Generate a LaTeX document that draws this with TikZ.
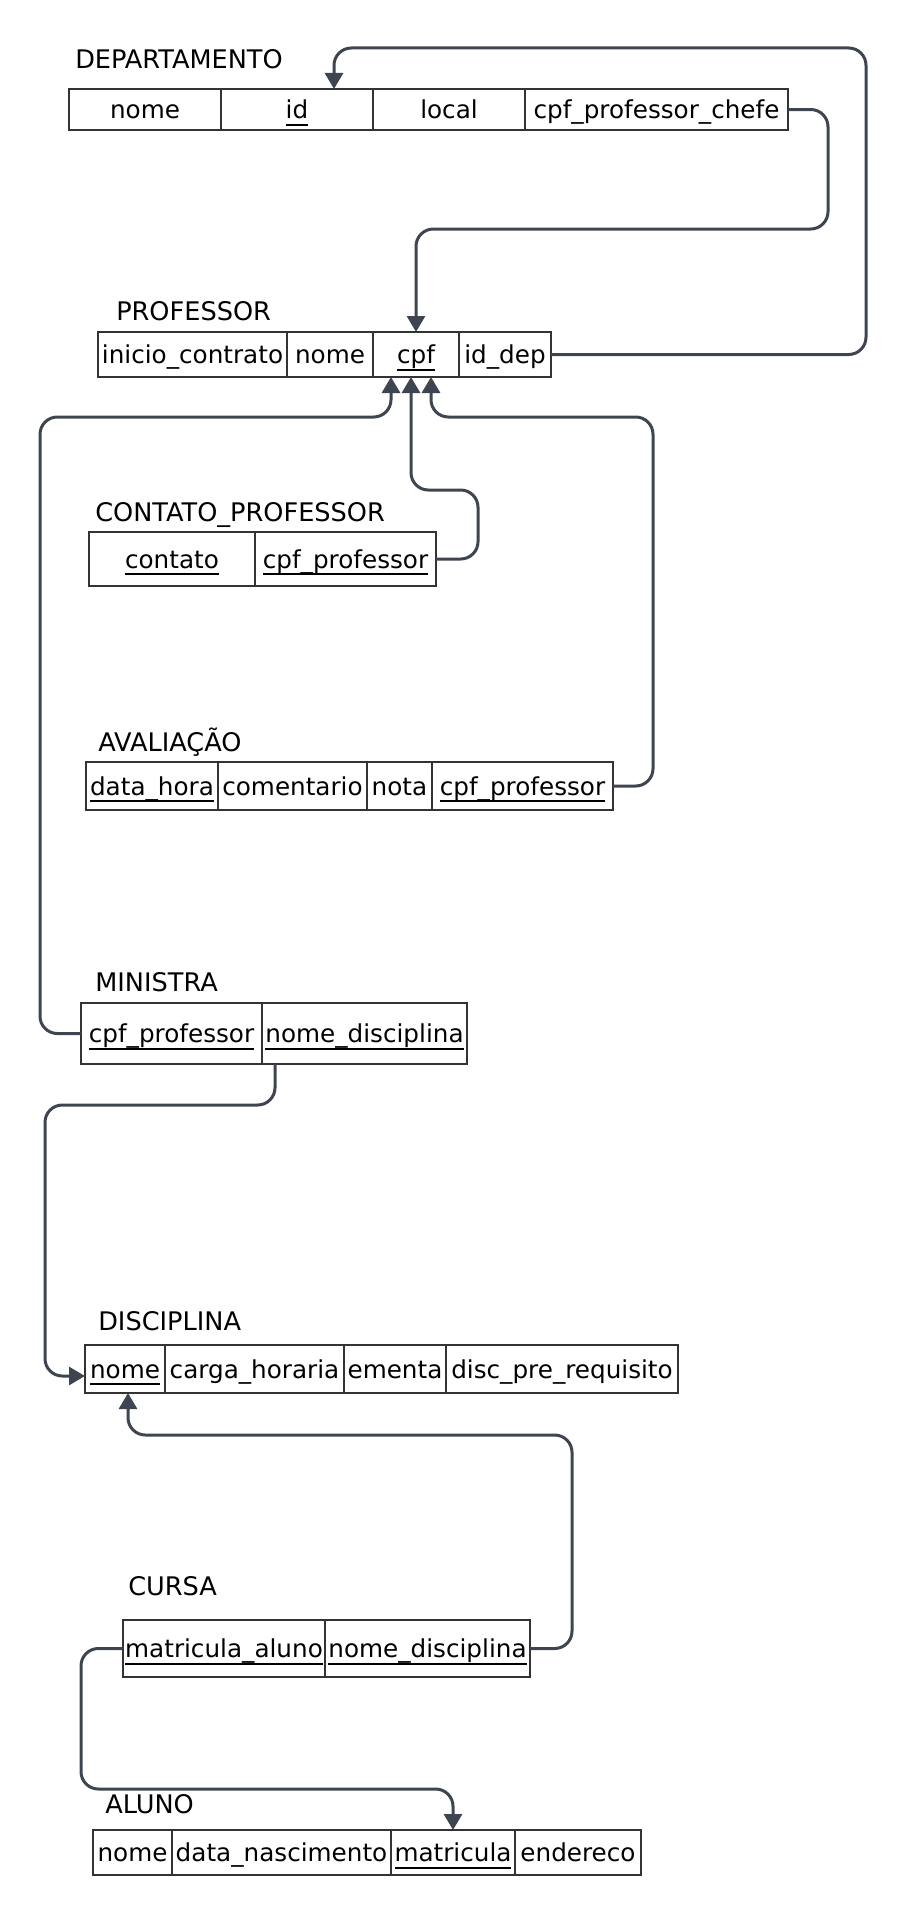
\documentclass[tikz,border=0pt]{standalone}
\usepackage{fontspec}
\setmainfont{DejaVu Sans}
\usetikzlibrary{positioning,calc,arrows.meta}

\definecolor{linha}{HTML}{3F4550}
\definecolor{borda}{HTML}{333333}
\newsavebox\chavebox
\newcommand\chave[1]{\sbox\chavebox{#1}\rlap{\rule[-5.6pt]{\wd\chavebox}{1.5pt}}\usebox\chavebox}

\tikzset{
  cell/.style 2 args={draw=borda, line width=1.5pt, inner sep=0pt, outer sep=0pt,
    minimum width=#1*0.75pt, minimum height=#2*0.75pt,
    text height=14pt, text depth=0.5pt, font=\fontsize{18.5}{22}\selectfont},
  titulo/.style={anchor=base west, inner sep=0pt, font=\fontsize{19.2}{23}\selectfont},
  seta/.style={draw=linha, line width=2.25pt, rounded corners=13pt,
    -{Triangle[width=13.5pt,length=12pt]}},
}

\begin{document}
\begin{tikzpicture}[x=0.75pt,y=-0.75pt]
        \useasboundingbox (0,0) rectangle (904,1916);
        % DEPARTAMENTO
        \node[titulo] (tdep) at (75,69) {DEPARTAMENTO};
        \node[cell={152}{41}, anchor=north west] (dnome) at (69,89) {nome};
        \node[cell={152}{41}, right=0pt of dnome] (did) {\chave{id}};
        \node[cell={152}{41}, right=0pt of did] (dlocal) {local};
        \node[cell={263}{41}, right=0pt of dlocal] (dchefe) {cpf\_professor\_chefe};
        % PROFESSOR
        \node[titulo] (tprof) at (116,320) {PROFESSOR};
        \node[cell={189}{45}, anchor=north west] (pinicio) at (98,332) {inicio\_contrato};
        \node[cell={86}{45}, right=0pt of pinicio] (pnome) {nome};
        \node[cell={86}{45}, right=0pt of pnome] (pcpf) {\chave{cpf}};
        \node[cell={92}{45}, right=0pt of pcpf] (pdep) {id\_dep};
        % CONTATO_PROFESSOR
        \node[titulo] (tcont) at (95,521) {CONTATO\_PROFESSOR};
        \node[cell={166}{54}, anchor=north west] (ccont) at (89,532) {\chave{contato}};
        \node[cell={181}{54}, right=0pt of ccont] (ccpf) {\chave{cpf\_professor}};
        % AVALIACAO
        \node[titulo] (taval) at (98,751) {AVALIAÇÃO};
        \node[cell={132}{48}, anchor=north west] (adata) at (86,762) {\chave{data\_hora}};
        \node[cell={149}{48}, right=0pt of adata] (acom) {comentario};
        \node[cell={65}{48}, right=0pt of acom] (anota) {nota};
        \node[cell={181}{48}, right=0pt of anota] (acpf) {\chave{cpf\_professor}};
        % MINISTRA
        \node[titulo] (tmin) at (95,991) {MINISTRA};
        \node[cell={181}{61}, anchor=north west] (mcpf) at (81,1003) {\chave{cpf\_professor}};
        \node[cell={205}{61}, right=0pt of mcpf] (mdisc) {\chave{nome\_disciplina}};
        % DISCIPLINA
        \node[titulo] (tdisc) at (98,1330) {DISCIPLINA};
        \node[cell={80}{48}, anchor=north west] (snome) at (85,1345) {\chave{nome}};
        \node[cell={179}{48}, right=0pt of snome] (scarga) {carga\_horaria};
        \node[cell={102}{48}, right=0pt of scarga] (sementa) {ementa};
        \node[cell={232}{48}, right=0pt of sementa] (spre) {disc\_pre\_requisito};
        % CURSA
        \node[titulo] (tcur) at (128,1595) {CURSA};
        \node[cell={202}{57}, anchor=north west] (cmat) at (123,1620) {\chave{matricula\_aluno}};
        \node[cell={205}{57}, right=0pt of cmat] (cdisc) {\chave{nome\_disciplina}};
        % ALUNO
        \node[titulo] (talu) at (105,1813) {ALUNO};
        \node[cell={79}{45}, anchor=north west] (anome) at (93,1830) {nome};
        \node[cell={219}{45}, right=0pt of anome] (anasc) {data\_nascimento};
        \node[cell={124}{45}, right=0pt of anasc] (amat) {\chave{matricula}};
        \node[cell={126}{45}, right=0pt of amat] (aend) {endereco};
        % ligacoes
        \draw[seta] (pdep.east) -| (866,48) -| ($(did.north)+(37,0)$);
        \draw[seta] (dchefe.east) -| (828,229) -| (pcpf.north);
        \draw[seta] (mcpf.west) -| (40,417) -| ($(pcpf.south)+(-25,0)$);
        \draw[seta] (ccpf.east) -| (478,490) -| ($(pcpf.south)+(-5,0)$);
        \draw[seta] (acpf.east) -| (653,417) -| ($(pcpf.south)+(15,0)$);
        \draw[seta] ($(mdisc.south west)+(13,0)$) |- (45,1105) |- ($(snome.west)+(0,7)$);
        \draw[seta] (cdisc.east) -| (572,1435) -| ($(snome.south)+(3,0)$);
        \draw[seta] (cmat.west) -| (81,1789) -| (amat.north);
\end{tikzpicture}
\end{document}
